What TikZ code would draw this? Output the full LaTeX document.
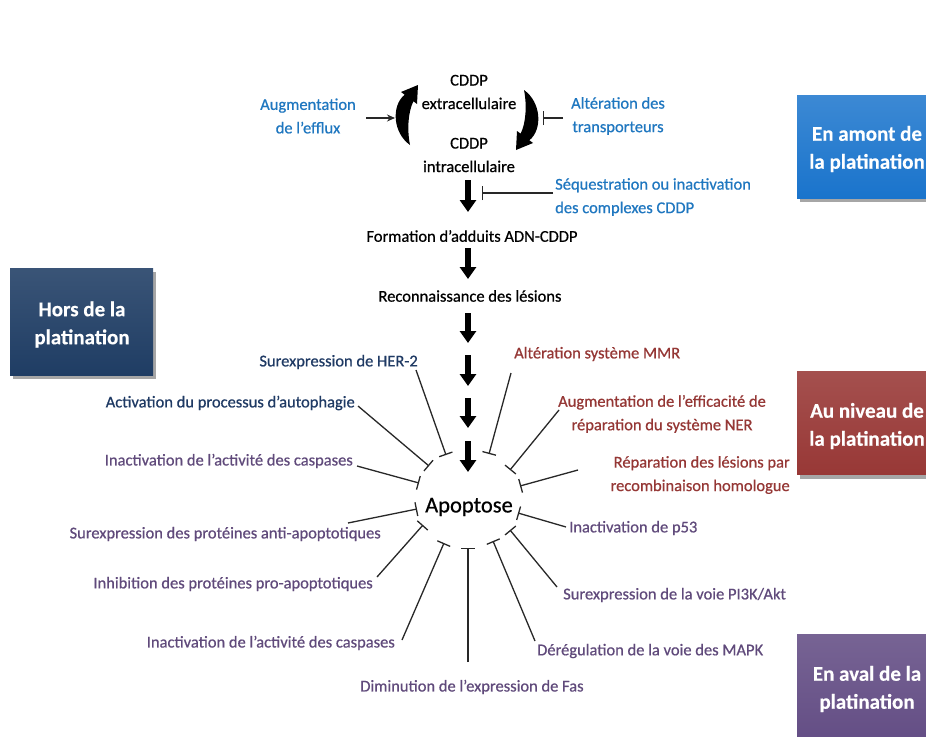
\documentclass[tikz,border=0pt]{standalone}
\usepackage{fontspec}
\setmainfont{Carlito}[FakeBold=0.6]
\newfontfamily\boxfont{Carlito}[FakeBold=0.3]
\usetikzlibrary{arrows.meta,shadows}
\definecolor{lblblue}{RGB}{31,119,192}
\definecolor{lblnavy}{RGB}{31,58,100}
\definecolor{lblred}{RGB}{149,55,53}
\definecolor{lblpurple}{RGB}{96,74,123}
\definecolor{boxblue}{RGB}{26,116,204}
\definecolor{boxred}{RGB}{152,56,54}
\definecolor{boxpurple}{RGB}{100,78,133}
\definecolor{boxnavy}{RGB}{31,61,100}
\definecolor{inkline}{RGB}{40,40,40}
\begin{document}
\begin{tikzpicture}[x=1pt,y=-1pt,
  txt/.style={inner sep=0pt, font=\fontsize{16.5}{23.5}\selectfont},
  core/.style={txt, text=black},
  lab/.style={txt},
  bigarrow/.style={line width=6.5pt, -{Triangle[width=16pt,length=12pt]}},
  inh/.style={draw=inkline, line width=1.3pt, -{Bar[width=14pt,line width=1.3pt]}},
  act/.style={draw=inkline, line width=1.3pt, -{Stealth[length=8pt,width=7pt]}},
  catbox/.style={minimum width=138pt, minimum height=103pt, inner sep=0pt,
     drop shadow={shadow xshift=3pt, shadow yshift=-4pt, opacity=0.35, fill=black}},
  boxtxt/.style={inner sep=0pt, text=white, align=center, font=\boxfont\fontsize{21}{28}\bfseries\selectfont},
]
\useasboundingbox (0,0) rectangle (926,736);
\fill[white] (0,0) rectangle (926,736);

% category boxes
\node[catbox, top color=boxblue!85!white, bottom color=boxblue] (amont) at (866,146.5) {};
\node[boxtxt] (amontt) at (867,149) {En amont de\\la platination};
\node[catbox, top color=boxred!88!white, bottom color=boxred] (niveau) at (866,423) {};
\node[boxtxt] (niveaut) at (867,426) {Au niveau de\\la platination};
\node[catbox, top color=boxpurple!88!white, bottom color=boxpurple, minimum height=106pt] (aval) at (866,687) {};
\node[boxtxt] (avalt) at (867,689) {En aval de la\\platination};
\node[catbox, minimum width=143pt, minimum height=107pt, top color=boxnavy!88!white, bottom color=boxnavy] (hors) at (81.5,321.5) {};
\node[boxtxt] (horst) at (82,324.5) {Hors de la\\platination};

% central column
\node[core, align=center] (ext) at (469,92) {CDDP\\extracellulaire};
\node[core, align=center] (int) at (469,155) {CDDP\\intracellulaire};
\node[core] (form) at (472,236) {Formation d’adduits ADN-CDDP};
\node[core] (rec) at (470,296) {Reconnaissance des lésions};
\node[inner sep=0pt, font=\fontsize{22.5}{26}\selectfont] (apo) at (469,507) {Apoptose};

% cycle arrows (tapered crescents)
\fill[black] (410,145) .. controls (393,133) and (391,106) .. (404.6,94.7)
  -- (401,92) -- (418,85) -- (417,104) -- (413.4,101.3)
  .. controls (408,112) and (407,130) .. (410,145) -- cycle;
\fill[black] (524,90) .. controls (541,102) and (543,129) .. (529.4,140.3)
  -- (533,143) -- (516,150) -- (517,131) -- (520.6,133.7)
  .. controls (526,123) and (527,105) .. (524,90) -- cycle;

% thick arrows
\coordinate (a1s) at (468,180); \coordinate (a1e) at (468,212);
\coordinate (a2s) at (468,248); \coordinate (a2e) at (468,279);
\coordinate (a3s) at (468,313); \coordinate (a3e) at (468,343);
\coordinate (a4s) at (468,355); \coordinate (a4e) at (468,386);
\coordinate (a5s) at (468,398); \coordinate (a5e) at (468,428);
\coordinate (a6s) at (468,441); \coordinate (a6e) at (468,472);
\foreach \i in {1,...,6} {\draw[bigarrow] (a\i s) -- (a\i e);}

% upstream labels
\node[lab, text=lblblue, align=center] (eff) at (308,116) {Augmentation\\de l’efflux};
\node[lab, text=lblblue, align=center] (trans) at (618,116) {Altération des\\transporteurs};
\node[lab, text=lblblue, align=left, anchor=west] (seq) at (555,197) {Séquestration ou inactivation\\des complexes CDDP};
\coordinate (effs) at (366,118); \coordinate (effe) at (395,118);
\draw[act] (effs) -- (effe);
\coordinate (trs) at (563,118); \coordinate (tre) at (543,118);
\draw[inh] (trs) -- (tre);
\coordinate (sqs) at (553,193); \coordinate (sqe) at (482,193);
\draw[inh] (sqs) -- (sqe);

% around apoptosis
\node[lab, text=lblnavy, anchor=east] (her) at (418,362) {Surexpression de HER-2};
\node[lab, text=lblnavy, anchor=east] (auto) at (355,403) {Activation du processus d’autophagie};
\node[lab, text=lblpurple, anchor=east] (casp1) at (353,461) {Inactivation de l’activité des caspases};
\node[lab, text=lblpurple, anchor=east] (anti) at (381,534) {Surexpression des protéines anti-apoptotiques};
\node[lab, text=lblpurple, anchor=east] (pro) at (373,584) {Inhibition des protéines pro-apoptotiques};
\node[lab, text=lblpurple, anchor=east] (casp2) at (395,643) {Inactivation de l’activité des caspases};
\node[lab, text=lblpurple] (fas) at (472,687) {Diminution de l’expression de Fas};
\node[lab, text=lblpurple, anchor=west] (mapk) at (537,651) {Dérégulation de la voie des MAPK};
\node[lab, text=lblpurple, anchor=west] (pi3k) at (563,595) {Surexpression de la voie PI3K/Akt};
\node[lab, text=lblpurple, anchor=west] (p53) at (569,528) {Inactivation de p53};
\node[lab, text=lblred, anchor=west] (mmr) at (514,354) {Altération système MMR};
\node[lab, text=lblred, align=center] (ner) at (662,414) {Augmentation de l’efficacité de\\réparation du système NER};
\node[lab, text=lblred, align=right, anchor=east] (hom) at (790,475) {Réparation des lésions par\\recombinaison homologue};

\coordinate (hers) at (416,370);  \coordinate (here) at (446,455);
\coordinate (auts) at (358,406);  \coordinate (aute) at (429,466);
\coordinate (c1s) at (357,466);   \coordinate (c1e) at (419,483);
\coordinate (ants) at (348,523);  \coordinate (ante) at (417,509);
\coordinate (pros) at (377,577);  \coordinate (proe) at (423,525);
\coordinate (c2s) at (402,640);   \coordinate (c2e) at (444,543);
\coordinate (fass) at (468,662);  \coordinate (fase) at (468,548);
\coordinate (maps) at (535,641);  \coordinate (mape) at (493,541);
\coordinate (pis) at (557,587);   \coordinate (pie) at (510,530);
\coordinate (p5s) at (566,527);   \coordinate (p5e) at (518,513);
\coordinate (hos) at (578,470);   \coordinate (hoe) at (520,486);
\coordinate (nes) at (559,410);   \coordinate (nee) at (510,470);
\coordinate (mms) at (511,373);   \coordinate (mme) at (489,454);
\foreach \a/\b in {hers/here, auts/aute, c1s/c1e, ants/ante, pros/proe, c2s/c2e, fass/fase, maps/mape, pis/pie, p5s/p5e, hos/hoe, nes/nee, mms/mme}
  {\draw[inh] (\a) -- (\b);}
\end{tikzpicture}
\end{document}
